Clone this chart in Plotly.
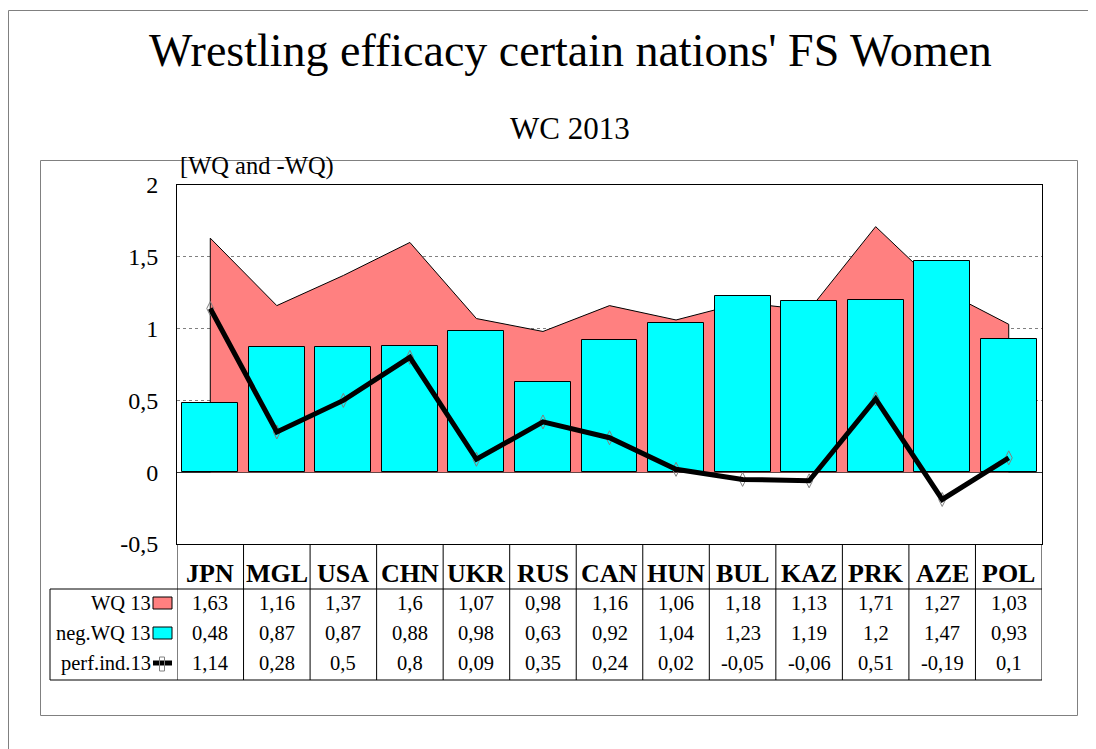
import plotly.graph_objects as go

categories = ["JPN", "MGL", "USA", "CHN", "UKR", "RUS", "CAN", "HUN", "BUL", "KAZ", "PRK", "AZE", "POL"]
wq13 = [1.63, 1.16, 1.37, 1.6, 1.07, 0.98, 1.16, 1.06, 1.18, 1.13, 1.71, 1.27, 1.03]
neg_wq13 = [0.48, 0.87, 0.87, 0.88, 0.98, 0.63, 0.92, 1.04, 1.23, 1.19, 1.2, 1.47, 0.93]
perf_ind13 = [1.14, 0.28, 0.5, 0.8, 0.09, 0.35, 0.24, 0.02, -0.05, -0.06, 0.51, -0.19, 0.1]
row_labels = ["WQ 13", "neg.WQ 13", "perf.ind.13"]
y_tickvals = [-0.5, 0, 0.5, 1, 1.5, 2]
y_ticktext = ["-0,5", "0", "0,5", "1", "1,5", "2"]

W, H = 1096, 749
OFF = 8  # page body margin
FONT = "Liberation Serif, Times New Roman, serif"
PINK = "#FF8080"
CYAN = "#00FFFF"


def px(x):
    return (x - OFF) / W


def py(y):
    return 1 - (y - OFF) / H


def fmt(v):
    s = f"{v:.2f}".rstrip("0").rstrip(".")
    return s.replace(".", ",")


n = len(categories)
xs = list(range(n))

PL, PR, PT, PB = 177, 1042, 185, 544
TAB_TOP, TAB_BOT, TAB_LEFT = 589, 680, 50
ROW_Y = [603, 633, 663]
HEAD_Y = 573

fig = go.Figure()

fig.add_trace(go.Scatter(
    x=[xs[0]] + xs + [xs[-1]], y=[0] + wq13 + [0],
    mode="lines", fill="toself", fillcolor=PINK,
    line=dict(color="black", width=1), hoverinfo="skip",
    xaxis="x", yaxis="y", showlegend=False))

fig.add_trace(go.Bar(
    x=xs, y=neg_wq13, width=0.84,
    marker=dict(color=CYAN, line=dict(color="black", width=1)),
    xaxis="x2", yaxis="y2", showlegend=False))

fig.add_trace(go.Scatter(
    x=xs, y=perf_ind13, mode="markers",
    marker=dict(symbol="diamond-tall-open", size=10, color="#808080", line=dict(width=1, color="#808080")),
    xaxis="x2", yaxis="y2", showlegend=False))

fig.add_trace(go.Scatter(
    x=xs, y=perf_ind13, mode="lines",
    line=dict(color="black", width=5),
    xaxis="x2", yaxis="y2", showlegend=False))

xr = [-0.5, n - 0.5]
yr = [-0.5, 2]
xdom = [px(PL), px(PR)]
ydom = [py(PB), py(PT)]

fig.update_layout(
    width=W, height=H,
    margin=dict(l=0, r=0, t=0, b=0, autoexpand=False),
    paper_bgcolor="white", plot_bgcolor="white",
    font=dict(family=FONT, color="black"),
    showlegend=False,
    bargap=0,
    xaxis=dict(domain=xdom, range=xr, showgrid=False, zeroline=False,
               showticklabels=False, ticks="", showline=True, linecolor="black",
               linewidth=1, mirror=True, fixedrange=True),
    yaxis=dict(domain=ydom, range=yr, tickvals=y_tickvals, ticktext=y_ticktext,
               tickfont=dict(size=24, family=FONT, color="black"),
               showgrid=True, gridcolor="#808080", griddash="dot", gridwidth=1,
               zeroline=True, zerolinecolor="#303030", zerolinewidth=1,
               showline=True, linecolor="black", linewidth=1, mirror=True,
               ticks="", ticklabelstandoff=13, fixedrange=True),
    xaxis2=dict(domain=xdom, range=xr, overlaying="x", anchor="y2", visible=False, fixedrange=True),
    yaxis2=dict(domain=ydom, range=yr, overlaying="y", anchor="x2", visible=False, fixedrange=True),
)

shapes = []
# outer border (extends beyond the visible page on right/bottom)
shapes.append(dict(type="rect", xref="paper", yref="paper",
                   x0=px(8.5), x1=px(1120), y0=py(780), y1=py(10.5),
                   line=dict(color="#808080", width=1)))
# inner chart border
shapes.append(dict(type="rect", xref="paper", yref="paper",
                   x0=px(40.5), x1=px(1077.5), y0=py(715.5), y1=py(160.5),
                   line=dict(color="#808080", width=1)))
for yy in (TAB_TOP, TAB_BOT):
    shapes.append(dict(type="line", xref="paper", yref="paper",
                       x0=px(TAB_LEFT), x1=px(PR), y0=py(yy), y1=py(yy),
                       line=dict(color="black", width=1)))
shapes.append(dict(type="line", xref="paper", yref="paper",
                   x0=px(TAB_LEFT), x1=px(TAB_LEFT), y0=py(TAB_TOP), y1=py(TAB_BOT),
                   line=dict(color="black", width=1)))
for k in range(n + 1):
    shapes.append(dict(type="line", xref="x", yref="paper",
                       x0=k - 0.5, x1=k - 0.5, y0=py(PB), y1=py(TAB_BOT),
                       line=dict(color="black", width=1)))
# legend keys
shapes.append(dict(type="rect", xref="paper", yref="paper",
                   x0=px(153), x1=px(172), y0=py(609), y1=py(597),
                   fillcolor=PINK, line=dict(color="black", width=1)))
shapes.append(dict(type="rect", xref="paper", yref="paper",
                   x0=px(153), x1=px(172), y0=py(639), y1=py(627),
                   fillcolor=CYAN, line=dict(color="black", width=1)))
shapes.append(dict(type="line", xref="paper", yref="paper",
                   x0=px(153), x1=px(172), y0=py(663), y1=py(663),
                   line=dict(color="black", width=5)))
shapes.append(dict(type="rect", xref="paper", yref="paper",
                   x0=px(159.5), x1=px(164.5), y0=py(671), y1=py(657),
                   line=dict(color="#808080", width=1)))
fig.update_layout(shapes=shapes)

ann = []
ann.append(dict(text="Wrestling efficacy certain nations' FS Women", x=px(570), y=py(50),
                xref="paper", yref="paper", showarrow=False,
                font=dict(size=46, family=FONT, color="black"), xanchor="center", yanchor="middle"))
ann.append(dict(text="WC 2013", x=px(570), y=py(128),
                xref="paper", yref="paper", showarrow=False,
                font=dict(size=31, family=FONT, color="black"), xanchor="center", yanchor="middle"))
ann.append(dict(text="[WQ and -WQ)", x=px(257), y=py(166),
                xref="paper", yref="paper", showarrow=False,
                font=dict(size=24.5, family=FONT, color="black"), xanchor="center", yanchor="middle"))
for i, c in enumerate(categories):
    ann.append(dict(text=f"<b>{c}</b>", x=i, y=py(HEAD_Y), xref="x", yref="paper",
                    showarrow=False, font=dict(size=26, family=FONT, color="black"),
                    xanchor="center", yanchor="middle"))
for r, (lab, vals) in enumerate(zip(row_labels, [wq13, neg_wq13, perf_ind13])):
    ann.append(dict(text=lab, x=px(153), y=py(ROW_Y[r]), xref="paper", yref="paper",
                    showarrow=False, font=dict(size=20.5, family=FONT, color="black"),
                    xanchor="right", yanchor="middle"))
    for i, v in enumerate(vals):
        ann.append(dict(text=fmt(v), x=i, y=py(ROW_Y[r]), xref="x", yref="paper",
                        showarrow=False, font=dict(size=20.5, family=FONT, color="black"),
                        xanchor="center", yanchor="middle"))
fig.update_layout(annotations=ann)

fig.write_html("out.html")
